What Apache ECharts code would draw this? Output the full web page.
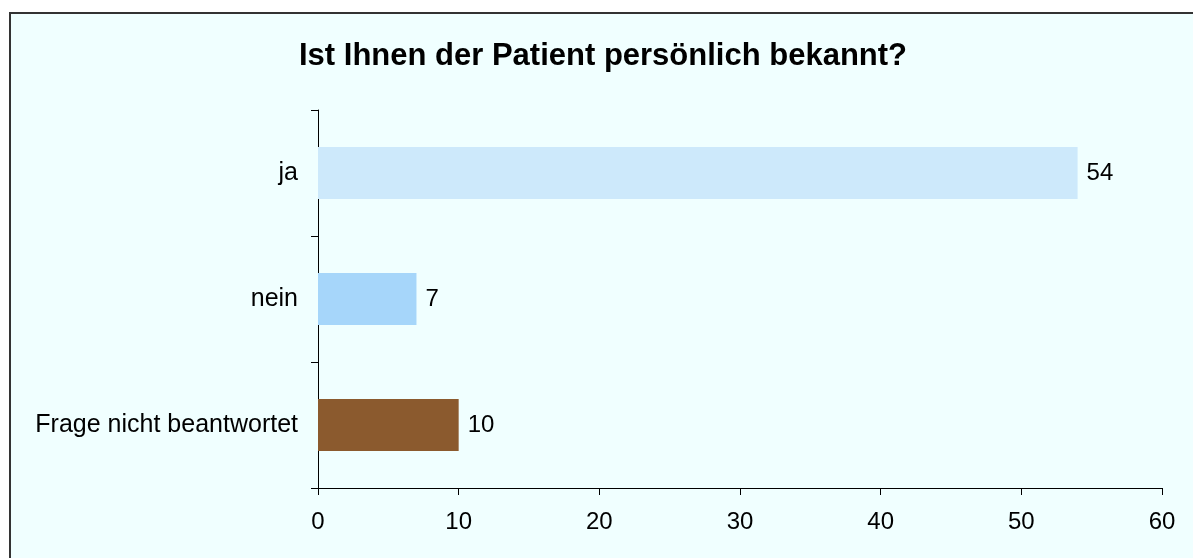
<!DOCTYPE html>
<html>
<head>
<meta charset="utf-8">
<script src="https://cdn.jsdelivr.net/npm/echarts@6/dist/echarts.min.js"></script>
<style>
html, body { margin: 0; padding: 0; background: #fff; }
#chart { width: 1193px; height: 558px; }
</style>
</head>
<body>
<div id="chart"></div>
<script>
var titleText = 'Ist Ihnen der Patient persönlich bekannt?';
var categories = ['ja', 'nein', 'Frage nicht beantwortet'];
var values = [54, 7, 10];
var barColors = ['#cde9fb', '#a6d6fa', '#8b5a2e'];
var xTicks = [0, 10, 20, 30, 40, 50, 60];

var chart = echarts.init(document.getElementById('chart'));

var data = [];
for (var i = 0; i < values.length; i++) {
	data.push({ value: values[i], itemStyle: { color: barColors[i] } });
}

var font = 'Liberation Sans, Arial, sans-serif';

var option = {
	backgroundColor: '#fff',
	animation: false,
	textStyle: { fontFamily: font },
	graphic: [{
		type: 'rect',
		z: -10,
		silent: true,
		shape: { x: 10, y: 13, width: 1300, height: 700 },
		style: { fill: '#f0ffff', stroke: '#333', lineWidth: 2 }
	}],
	title: {
		text: titleText,
		left: 294,
		top: 36,
		textStyle: { fontSize: 31, fontWeight: 'bold', color: '#000', fontFamily: font }
	},
	grid: { left: 318, right: 31, top: 110, bottom: 70, containLabel: false },
	xAxis: {
		type: 'value',
		min: xTicks[0],
		max: xTicks[xTicks.length - 1],
		interval: 10,
		axisLine: { show: true, lineStyle: { color: '#000', width: 1 } },
		axisTick: { show: true, length: 7, lineStyle: { color: '#000' } },
		splitLine: { show: false },
		axisLabel: { fontSize: 24, color: '#000', margin: 22 }
	},
	yAxis: {
		type: 'category',
		inverse: true,
		data: categories,
		axisLine: { show: true, lineStyle: { color: '#000', width: 1 } },
		axisTick: { show: true, length: 7, lineStyle: { color: '#000' } },
		axisLabel: { fontSize: 25, color: '#000', margin: 20 }
	},
	series: [{
		type: 'bar',
		data: data,
		barWidth: 52,
		label: { show: true, position: 'right', distance: 9, fontSize: 24, color: '#000' }
	}]
};

chart.setOption(option);
</script>
</body>
</html>
